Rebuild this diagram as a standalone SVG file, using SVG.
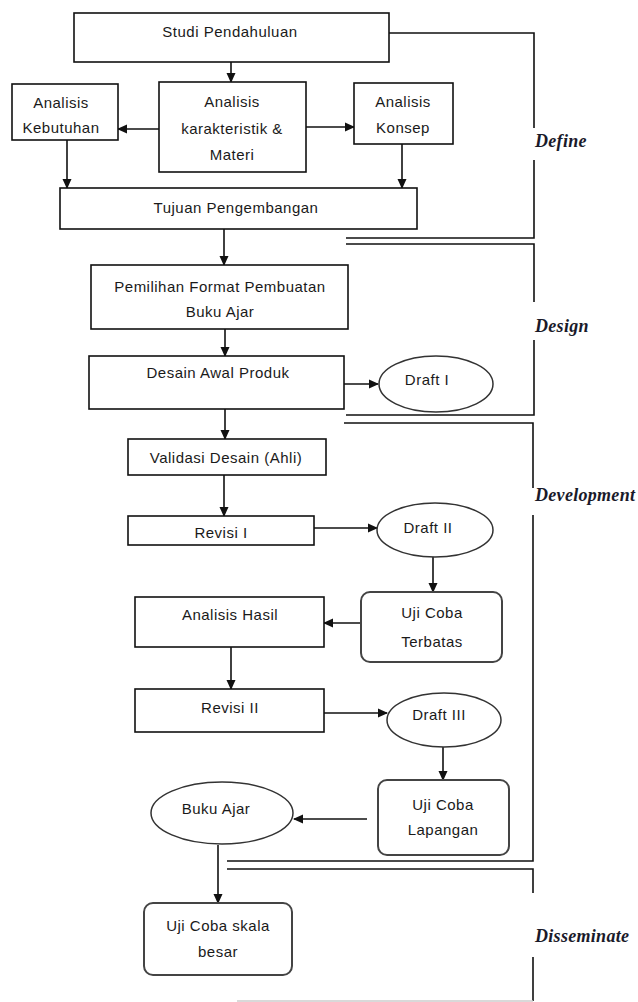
<svg xmlns="http://www.w3.org/2000/svg" width="638" height="1002" viewBox="0 0 638 1002">
<style>
.b{fill:#fff;stroke:#111;stroke-width:1.6}
.r{fill:#fff;stroke:#444;stroke-width:2}
.e{fill:#fff;stroke:#333;stroke-width:1.5}
.t{font-family:"Liberation Sans",Arial,sans-serif;font-size:15px;letter-spacing:0.5px;fill:#1a1a1a;text-anchor:middle}
.c{fill:none;stroke:#111;stroke-width:1.6}
.k{fill:none;stroke:#111;stroke-width:1.6}
.lab{font-family:"Liberation Serif","Times New Roman",serif;font-size:18px;font-weight:bold;font-style:italic;letter-spacing:0.3px;fill:#1a1a2a}
</style>
<defs>
<marker id="ah" markerUnits="userSpaceOnUse" markerWidth="10" markerHeight="10" viewBox="0 0 10 10" refX="9" refY="5" orient="auto">
<path d="M0,0.5 L10,5 L0,9.5 Z" fill="#111"/>
</marker>
</defs>
<rect width="638" height="1002" fill="#fff"/>

<g id="brackets">
<path class="k" d="M389 33 H534 V128 M534 160 V238 H346"/>
<path class="k" d="M346 244 H534 V302 M534 340 V415 H346"/>
<path class="k" d="M344 423 H533 V488 M533 515 V861 H227"/>
<path class="k" d="M227 869 H533 V893 M533 957 V1001"/>
<path d="M237 1001 H533" stroke="#ccc" stroke-width="1.5" fill="none"/>
<text class="lab" x="535" y="147">Define</text>
<text class="lab" x="535" y="332">Design</text>
<text class="lab" x="535" y="501">Development</text>
<text class="lab" x="535" y="942">Disseminate</text>
</g>

<g id="connectors">
<path class="c" marker-end="url(#ah)" d="M231 62 V82"/>
<path class="c" marker-end="url(#ah)" d="M159 129 H118"/>
<path class="c" marker-end="url(#ah)" d="M306 127 H354"/>
<path class="c" marker-end="url(#ah)" d="M67 140 V188"/>
<path class="c" marker-end="url(#ah)" d="M402 144 V188"/>
<path class="c" marker-end="url(#ah)" d="M224 229 V265"/>
<path class="c" marker-end="url(#ah)" d="M225 329 V356"/>
<path class="c" marker-end="url(#ah)" d="M344 384 H378"/>
<path class="c" marker-end="url(#ah)" d="M225 409 V439"/>
<path class="c" marker-end="url(#ah)" d="M224 475 V516"/>
<path class="c" marker-end="url(#ah)" d="M314 528 H377"/>
<path class="c" marker-end="url(#ah)" d="M433 557 V592"/>
<path class="c" marker-end="url(#ah)" d="M361 623 H324"/>
<path class="c" marker-end="url(#ah)" d="M231 647 V689"/>
<path class="c" marker-end="url(#ah)" d="M324 713 H387"/>
<path class="c" marker-end="url(#ah)" d="M443 747 V780"/>
<path class="c" marker-end="url(#ah)" d="M367 819 H294"/>
<path class="c" marker-end="url(#ah)" d="M218 845 V903"/>
</g>

<g id="studi"><rect class="b" x="74" y="13" width="315" height="49"/><text class="t" x="230" y="37">Studi Pendahuluan</text></g>
<g id="kebutuhan"><rect class="b" x="12" y="84" width="106" height="56"/><text class="t" x="61" y="108">Analisis</text><text class="t" x="61" y="133">Kebutuhan</text></g>
<g id="karakteristik"><rect class="b" x="159" y="82" width="147" height="90"/><text class="t" x="232" y="107">Analisis</text><text class="t" x="232" y="134">karakteristik &amp;</text><text class="t" x="232" y="160">Materi</text></g>
<g id="konsep"><rect class="b" x="354" y="83" width="99" height="61"/><text class="t" x="403" y="107">Analisis</text><text class="t" x="403" y="133">Konsep</text></g>
<g id="tujuan"><rect class="b" x="60" y="188" width="357" height="41"/><text class="t" x="236" y="213">Tujuan Pengembangan</text></g>
<g id="pemilihan"><rect class="b" x="91" y="265" width="257" height="64"/><text class="t" x="220" y="292">Pemilihan Format Pembuatan</text><text class="t" x="220" y="317">Buku Ajar</text></g>
<g id="desain"><rect class="b" x="89" y="356" width="255" height="53"/><text class="t" x="218" y="378">Desain Awal Produk</text></g>
<g id="draft1"><ellipse class="e" cx="436" cy="384" rx="57" ry="28"/><text class="t" x="427" y="385">Draft I</text></g>
<g id="validasi"><rect class="b" x="128" y="439" width="198" height="36"/><text class="t" x="226" y="463">Validasi Desain (Ahli)</text></g>
<g id="revisi1"><rect class="b" x="128" y="516" width="186" height="29"/><text class="t" x="221" y="538">Revisi I</text></g>
<g id="draft2"><ellipse class="e" cx="435" cy="530" rx="58" ry="27"/><text class="t" x="428" y="533">Draft II</text></g>
<g id="ujiterbatas"><rect class="r" x="361" y="592" width="141" height="70" rx="9"/><text class="t" x="432" y="618">Uji Coba</text><text class="t" x="432" y="647">Terbatas</text></g>
<g id="analisishasil"><rect class="b" x="135" y="597" width="189" height="50"/><text class="t" x="230" y="620">Analisis Hasil</text></g>
<g id="revisi2"><rect class="b" x="135" y="689" width="189" height="43"/><text class="t" x="230" y="713">Revisi II</text></g>
<g id="draft3"><ellipse class="e" cx="444" cy="720" rx="57" ry="27"/><text class="t" x="439" y="720">Draft III</text></g>
<g id="ujilapangan"><rect class="r" x="378" y="780" width="131" height="75" rx="9"/><text class="t" x="443" y="810">Uji Coba</text><text class="t" x="443" y="835">Lapangan</text></g>
<g id="bukuajar"><ellipse class="e" cx="222" cy="813" rx="71" ry="31"/><text class="t" x="216" y="814">Buku Ajar</text></g>
<g id="ujiskala"><rect class="r" x="144" y="903" width="148" height="72" rx="9"/><text class="t" x="218" y="931">Uji Coba skala</text><text class="t" x="218" y="957">besar</text></g>
</svg>
